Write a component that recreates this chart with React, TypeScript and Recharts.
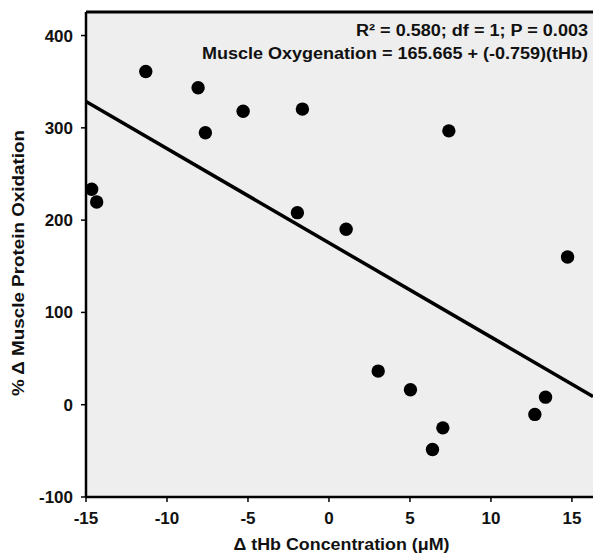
import React from "react";
import {
  ScatterChart,
  Scatter,
  XAxis,
  YAxis,
  CartesianGrid,
  ReferenceLine,
  Label,
} from "recharts";

// Δ tHb concentration (µM) of each subject
const tHbValues = [
  -14.65, -14.34, -11.31, -8.08, -7.63, -5.3, -1.64, -1.95, 1.06, 7.4, 14.73,
  3.04, 5.03, 7.03, 6.39, 12.71, 13.37,
];
// % Δ muscle protein oxidation of each subject
const oxidationValues = [
  233.5, 219.7, 361, 343.4, 294.6, 318, 320.3, 208.1, 190.1, 296.7, 160.1,
  36.4, 16.2, -25.1, -48.5, -10.5, 8.2,
];
// regression line end points
const fitX = [-15, 16.3];
const fitY = [328.5, 9];

const xTicks = [-15, -10, -5, 0, 5, 10, 15];
const yTicks = [-100, 0, 100, 200, 300, 400];
const xDomain = [-15, 16.3];
const yDomain = [-100, 425.5];

const statsText = "R\u00B2 = 0.580; df = 1; P = 0.003";
const equationText = "Muscle Oxygenation = 165.665 + (-0.759)(tHb)";
const xTitle = "\u0394 tHb Concentration (\u03BCM)";
const yTitle = "% \u0394 Muscle Protein Oxidation";

const points = tHbValues.map((x, i) => ({ x, y: oxidationValues[i] }));
const fitLine = fitX.map((x, i) => ({ x, y: fitY[i] }));

const FONT = '"Liberation Sans", Arial, Helvetica, sans-serif';

const Dot = (p: any) => {
  if (p.cx == null || p.cy == null) return null;
  return <circle cx={p.cx} cy={p.cy} r={6.7} fill="#000" />;
};

const NoShape = () => null;

const YTitle = (props: any) => {
  const vb = props.viewBox || { x: 0, y: 0, width: 0, height: 0 };
  const cx = vb.x + 18.5;
  const cy = vb.y + vb.height / 2 + 8.5;
  return (
    <text
      x={cx}
      y={cy}
      transform={`rotate(-90, ${cx}, ${cy})`}
      textAnchor="middle"
      dominantBaseline="central"
      fontFamily={FONT}
      fontWeight="bold"
      fontSize={16}
      textLength={266}
      lengthAdjust="spacingAndGlyphs"
      fill="#111"
    >
      {yTitle}
    </text>
  );
};

const XTitle = (props: any) => {
  const vb = props.viewBox || { x: 0, y: 0, width: 0, height: 0 };
  const cx = vb.x + vb.width / 2 + 2;
  const by = vb.y + vb.height - 3;
  return (
    <text
      x={cx}
      y={by}
      textAnchor="middle"
      fontFamily={FONT}
      fontWeight="bold"
      fontSize={16}
      textLength={216}
      lengthAdjust="spacingAndGlyphs"
      fill="#111"
    >
      {xTitle}
    </text>
  );
};

export default function App() {
  return (
    <div
      style={{
        position: "fixed",
        left: 0,
        top: 0,
        width: 593,
        height: 553,
        overflow: "hidden",
        background: "#fff",
      }}
    >
      <ScatterChart
        width={593}
        height={553}
        margin={{ top: 12, right: 0, bottom: 0, left: 0 }}
      >
        <CartesianGrid
          fill="#eeeeee"
          horizontal={false}
          vertical={false}
          stroke="none"
        />
        <XAxis
          type="number"
          dataKey="x"
          domain={xDomain}
          ticks={xTicks}
          allowDataOverflow
          height={56}
          tickSize={5}
          tickMargin={10}
          axisLine={{ stroke: "#000", strokeWidth: 2.5 }}
          tickLine={{ stroke: "#000", strokeWidth: 1.5 }}
          tick={{
            fill: "#111",
            fontSize: 17,
            fontWeight: "bold",
            fontFamily: FONT,
          }}
        >
          <Label content={XTitle} />
        </XAxis>
        <YAxis
          type="number"
          dataKey="y"
          domain={yDomain}
          ticks={yTicks}
          allowDataOverflow
          width={86}
          tickSize={5}
          tickMargin={8}
          axisLine={{ stroke: "#000", strokeWidth: 2.5 }}
          tickLine={{ stroke: "#000", strokeWidth: 1.5 }}
          tick={{
            fill: "#111",
            fontSize: 17,
            fontWeight: "bold",
            fontFamily: FONT,
          }}
        >
          <Label content={YTitle} />
        </YAxis>
        <ReferenceLine y={yDomain[1]} stroke="#000" strokeWidth={3} />
        <Scatter
          data={fitLine}
          line={{ stroke: "#000", strokeWidth: 3.5 }}
          shape={NoShape}
          isAnimationActive={false}
        />
        <Scatter data={points} shape={Dot} isAnimationActive={false} />
      </ScatterChart>
      <svg
        width={593}
        height={553}
        style={{ position: "absolute", left: 0, top: 0, pointerEvents: "none" }}
      >
        <text
          x={588}
          y={36}
          textAnchor="end"
          fontFamily={FONT}
          fontWeight="bold"
          fontSize={16}
          textLength={232}
          lengthAdjust="spacingAndGlyphs"
          fill="#111"
        >
          {statsText}
        </text>
        <text
          x={588}
          y={58.8}
          textAnchor="end"
          fontFamily={FONT}
          fontWeight="bold"
          fontSize={16}
          textLength={386}
          lengthAdjust="spacingAndGlyphs"
          fill="#111"
        >
          {equationText}
        </text>
      </svg>
    </div>
  );
}
